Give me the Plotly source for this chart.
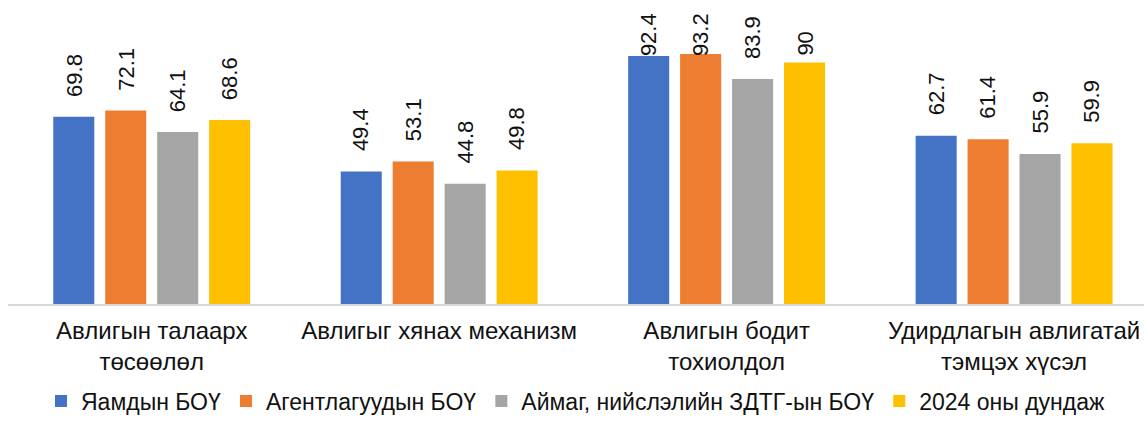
import plotly.graph_objects as go

categories = ["Авлигын талаарх<br>төсөөлөл", "Авлигыг хянах механизм",
              "Авлигын бодит<br>тохиолдол", "Удирдлагын авлигатай<br>тэмцэх хүсэл"]
series_names = ["Яамдын БОҮ", "Агентлагуудын БОҮ", "Аймаг, нийслэлийн ЗДТГ-ын БОҮ", "2024 оны дундаж"]
yaamd = [69.8, 49.4, 92.4, 62.7]
agentlag = [72.1, 53.1, 93.2, 61.4]
aimag = [64.1, 44.8, 83.9, 55.9]
dundaj = [68.6, 49.8, 90, 59.9]
colors = ["#4472C4", "#ED7D31", "#A5A5A5", "#FFC000"]

FONT = "Arial, Liberation Sans, sans-serif"
Y_MAX = 113.3
PLOT_H = 304          # plot area height in px (423 - bottom margin)
BAR_PITCH = 52        # px between bars within a group
LABEL_GAP = 18        # px between bar top and label
LABEL_LEN = 44        # approx rendered length of a rotated label
TOP_LIMIT = 14        # labels are kept below this many px from the top

fig = go.Figure()
all_series = [yaamd, agentlag, aimag, dundaj]
for name, vals, col in zip(series_names, all_series, colors):
    fig.add_trace(go.Bar(
        x=categories, y=vals, name=name,
        marker=dict(color=col, line=dict(width=0)),
        cliponaxis=False,
    ))

# value labels, rotated, placed above each bar (kept inside the chart top like Excel does)
px_per_unit = PLOT_H / Y_MAX
for si, vals in enumerate(all_series):
    for cat, v in zip(categories, vals):
        bar_top_px = PLOT_H - v * px_per_unit
        shift = min(LABEL_GAP, bar_top_px - TOP_LIMIT - LABEL_LEN)
        fig.add_annotation(
            x=cat, y=v, xref="x", yref="y", text=f"{v:g}", showarrow=False,
            textangle=-90, xanchor="center", yanchor="bottom",
            xshift=(si - 1.5) * BAR_PITCH, yshift=shift,
            font=dict(family=FONT, size=22, color="#111111"),
        )

fig.update_layout(
    width=1144, height=423,
    margin=dict(l=8, r=0, t=0, b=119, autoexpand=False),
    paper_bgcolor="white", plot_bgcolor="white",
    barmode="group", bargap=0.277, bargroupgap=0.21,
    font=dict(family=FONT, size=23, color="#111111"),
    showlegend=True,
    legend=dict(orientation="h", x=0.5, xanchor="center", y=-0.39, yanchor="bottom",
                font=dict(size=23), itemwidth=30, tracegroupgap=0),
)
fig.update_xaxes(range=[-0.5, 3.452], showline=True, linecolor="#D9D9D9", linewidth=1.5,
                 ticks="", ticklabelstandoff=4, tickfont=dict(size=24, color="#111111"))
fig.update_yaxes(range=[0, Y_MAX], showgrid=False, showticklabels=False, zeroline=False)

fig.write_html("out.html", config={"displayModeBar": False},
               post_script="document.body.style.margin='0';")
